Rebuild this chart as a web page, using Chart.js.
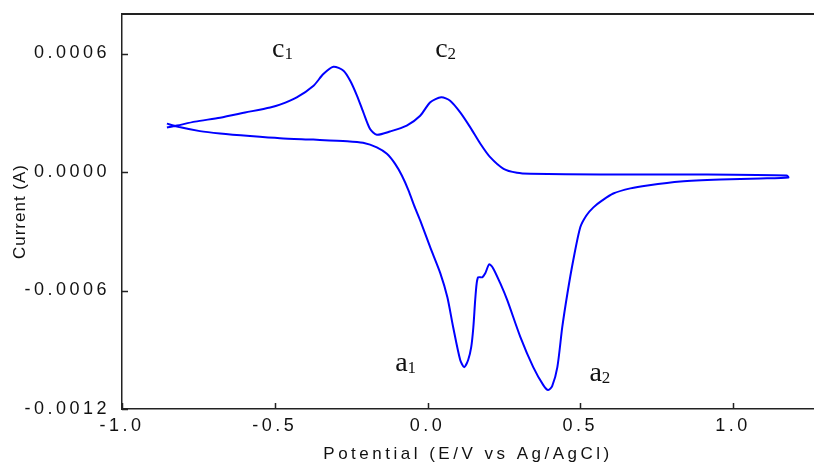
<!DOCTYPE html>
<html>
<head>
<meta charset="utf-8">
<script src="https://cdn.jsdelivr.net/npm/chart.js@4/dist/chart.umd.min.js"></script>
<style>
  html, body { margin: 0; padding: 0; background: #fff; }
  #wrap { width: 814px; height: 463px; }
</style>
</head>
<body>
<div id="wrap"><canvas id="cv" width="814" height="463"></canvas></div>
<script>
// cyclic voltammogram, values
// forward sweep (left -> right), then the return sweep back to the start
const potential = [
  -0.853, -0.820, -0.745, -0.679, -0.581, -0.483, -0.374, -0.263, -0.211, -0.166,
  -0.133, -0.106, -0.084, -0.062, -0.044, -0.024, 0.009, 0.042, 0.065, 0.084,
  0.107, 0.120, 0.133, 0.143, 0.150, 0.156, 0.161, 0.166, 0.179, 0.189,
  0.202, 0.215, 0.238, 0.261, 0.304, 0.346, 0.379, 0.395, 0.408, 0.425,
  0.441, 0.458, 0.477, 0.500, 0.520, 0.543, 0.572, 0.608, 0.664, 0.720,
  0.828, 0.959, 1.090, 1.181,
  1.175, 0.893, 0.566, 0.336, 0.293, 0.249, 0.205, 0.173, 0.140, 0.107,
  0.074, 0.045, 0.009, -0.024, -0.068, -0.123, -0.166, -0.188, -0.210, -0.231,
  -0.253, -0.275, -0.308, -0.341, -0.373, -0.428, -0.483, -0.515, -0.597, -0.679,
  -0.761, -0.820, -0.853
];
const current = [
  2.45e-4, 2.30e-4, 2.07e-4, 1.95e-4, 1.82e-4, 1.71e-4, 1.64e-4, 1.56e-4, 1.48e-4, 1.25e-4,
  0.92e-4, 0.41e-4, -0.18e-4, -0.94e-4, -1.69e-4, -2.45e-4, -3.82e-4, -5.13e-4, -6.34e-4, -7.86e-4,
  -9.52e-4, -9.88e-4, -9.52e-4, -8.87e-4, -7.86e-4, -6.49e-4, -5.63e-4, -5.33e-4, -5.33e-4, -5.13e-4,
  -4.67e-4, -4.88e-4, -5.63e-4, -6.49e-4, -8.36e-4, -9.88e-4, -1.079e-3, -1.104e-3, -1.084e-3, -9.88e-4,
  -7.86e-4, -6.14e-4, -4.47e-4, -2.80e-4, -2.20e-4, -1.79e-4, -1.44e-4, -1.09e-4, -0.83e-4, -0.68e-4,
  -0.48e-4, -0.38e-4, -0.33e-4, -0.28e-4,
  -0.18e-4, -0.13e-4, -0.13e-4, -0.09e-4, -0.04e-4, 0.16e-4, 0.75e-4, 1.43e-4, 2.26e-4, 3.02e-4,
  3.61e-4, 3.78e-4, 3.53e-4, 2.85e-4, 2.35e-4, 2.05e-4, 1.89e-4, 2.18e-4, 3.02e-4, 3.87e-4,
  4.62e-4, 5.13e-4, 5.33e-4, 4.96e-4, 4.37e-4, 3.78e-4, 3.41e-4, 3.27e-4, 3.01e-4, 2.75e-4,
  2.55e-4, 2.35e-4, 2.25e-4
];

const xTicks = [-1.0, -0.5, 0.0, 0.5, 1.0];
const yTicks = [-0.0012, -0.0006, 0.0, 0.0006];
const yTitle = 'Current (A)';

// peak names (letter + subscript) and where they sit, in data units
const peakLetters = ['c', 'c', 'a', 'a'];
const peakIndex = ['1', '2', '1', '2'];
const peakPotential = [-0.509, 0.025, -0.106, 0.530];
const peakCurrent = [0.000581, 0.000581, -0.00101, -0.00106];

const points = potential.map((v, i) => ({ x: v, y: current[i] }));

// --- frame on top, inward tick marks, y title, peak labels ---
const framePlugin = {
  id: 'framePlugin',
  beforeLayout(chart) { chart.ctx.letterSpacing = '3.5px'; },
  beforeDraw(chart) { chart.ctx.letterSpacing = '3.5px'; },
  afterDraw(chart) {
    const { ctx, chartArea: a, scales: { x, y } } = chart;
    ctx.save();
    ctx.strokeStyle = '#222';
    ctx.lineWidth = 2;
    ctx.beginPath();
    ctx.moveTo(a.left, a.top);
    ctx.lineTo(a.right, a.top);
    ctx.stroke();

    ctx.lineWidth = 1.5;
    ctx.beginPath();
    xTicks.forEach(v => {
      const px = Math.round(x.getPixelForValue(v)) + 0.5;
      ctx.moveTo(px, a.bottom);
      ctx.lineTo(px, a.bottom - 6);
    });
    yTicks.forEach(v => {
      const py = Math.round(y.getPixelForValue(v)) + 0.5;
      ctx.moveTo(a.left, py);
      ctx.lineTo(a.left + 6, py);
    });
    ctx.stroke();

    // y axis title, tighter spacing than the tick labels
    ctx.letterSpacing = '1px';
    ctx.fillStyle = '#111';
    ctx.font = '17px "Liberation Sans", Arial, sans-serif';
    ctx.textAlign = 'center';
    ctx.textBaseline = 'middle';
    ctx.translate(20, (a.top + a.bottom) / 2);
    ctx.rotate(-Math.PI / 2);
    ctx.fillText(yTitle, 0, 0);
    ctx.setTransform(1, 0, 0, 1, 0, 0);

    ctx.letterSpacing = '0px';
    ctx.textAlign = 'left';
    ctx.textBaseline = 'alphabetic';
    peakLetters.forEach((l, i) => {
      const px = x.getPixelForValue(peakPotential[i]);
      const py = y.getPixelForValue(peakCurrent[i]);
      ctx.font = '28px "Liberation Serif"';
      ctx.fillText(l, px, py);
      const w = ctx.measureText(l).width;
      ctx.font = '17px "Liberation Serif"';
      ctx.fillText(peakIndex[i], px + w, py + 2);
    });
    ctx.restore();
  }
};

const tickFont = { family: '"Liberation Sans", Arial, sans-serif', size: 18 };
const titleFont = { family: '"Liberation Sans", Arial, sans-serif', size: 17, lineHeight: 1 };

new Chart(document.getElementById('cv').getContext('2d'), {
  type: 'scatter',
  data: {
    datasets: [{
      data: points,
      showLine: true,
      borderColor: '#0000ff',
      borderWidth: 2,
      pointRadius: 0,
      tension: 0.25,
      fill: false
    }]
  },
  options: {
    responsive: false,
    animation: false,
    devicePixelRatio: 1,
    layout: { padding: { top: 14, right: 0, bottom: 0, left: 0 } },
    plugins: {
      legend: { display: false },
      tooltip: { enabled: false }
    },
    scales: {
      x: {
        type: 'linear',
        min: -1.0,
        max: 1.265,
        grid: { display: false, drawTicks: false },
        border: { display: true, color: '#222', width: 1.5 },
        afterBuildTicks: s => { s.ticks = xTicks.map(v => ({ value: v })); },
        afterFit: s => { s.height = 54; s.paddingLeft = 0; s.paddingRight = 0; },
        ticks: {
          color: '#111',
          font: tickFont,
          padding: 6,
          maxRotation: 0,
          callback: v => v.toFixed(1)
        },
        title: {
          display: true,
          text: 'Potential (E/V vs Ag/AgCl)',
          color: '#111',
          font: titleFont,
          padding: { top: 0, bottom: 0 }
        }
      },
      y: {
        type: 'linear',
        min: -0.0012,
        max: 0.0008,
        grid: { display: false, drawTicks: false },
        border: { display: true, color: '#222', width: 1.5 },
        afterBuildTicks: s => { s.ticks = yTicks.map(v => ({ value: v })); },
        afterFit: s => { s.width = 122; s.paddingTop = 0; s.paddingBottom = 0; },
        ticks: {
          color: '#111',
          font: tickFont,
          padding: 12,
          callback: v => (Math.abs(v) < 1e-9 ? 0 : v).toFixed(4)
        },
        title: { display: false }
      }
    }
  },
  plugins: [framePlugin]
});
</script>
</body>
</html>
